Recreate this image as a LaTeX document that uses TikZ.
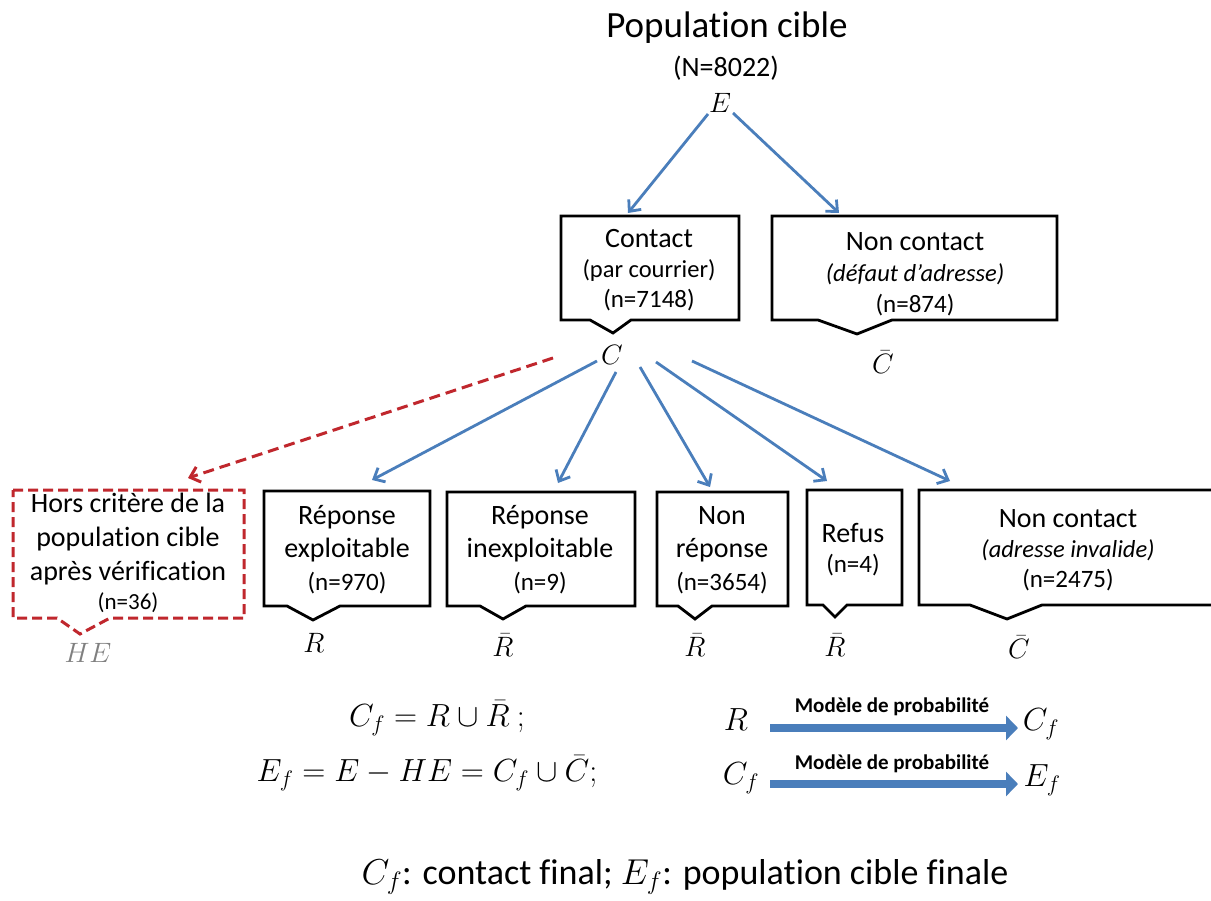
\documentclass[tikz,border=0pt]{standalone}
\usepackage{fix-cm}
\usepackage{fontspec}
\setmainfont{Carlito}[Ligatures={NoCommon}]
\usetikzlibrary{arrows.meta}
\definecolor{ablue}{RGB}{74,126,187}
\definecolor{ared}{RGB}{192,39,45}
\definecolor{hegray}{RGB}{128,128,128}
\newcommand{\fsz}[1]{\fontsize{#1}{#1}\selectfont}
\begin{document}
\begin{tikzpicture}[x=1pt,y=-1pt,
  callout/.style={draw=black,line width=2.8pt,line join=miter},
  hecallout/.style={draw=ared,line width=3pt,dash pattern=on 10pt off 5pt},
  arr/.style={draw=ablue,line width=2.8pt,-{Straight Barb[length=9pt,width=16pt]}},
  redarr/.style={draw=ared,line width=3pt,dash pattern=on 11pt off 6pt,-{Straight Barb[length=9pt,width=16pt]}},
  fatarr/.style={draw=ablue,line width=8pt,-{Triangle[length=12pt,width=24pt]}},
  txt/.style={inner sep=0pt,align=center},
  lbl/.style={inner sep=0pt,font=\fsz{28}},
  formula/.style={inner sep=0pt,font=\fsz{32}},
]
\clip (0,0) rectangle (1211,901);
\fill[white] (0,0) rectangle (1211,901);

% title
\node[txt] (title) at (727,28) {\fsz{37}Population cible};
\node[txt] (N) at (726,68) {\fsz{28}(N=8022)};
\node[lbl] (E) at (720,103) {$E$};

% top boxes
\draw[callout] (561,216) -- (739,216) -- (739,320) -- (631,320) -- (613,333) -- (590,320) -- (561,320) -- cycle;
\node[txt,font=\fontsize{24}{30}\selectfont] (contact) at (649,270) {\fsz{28}Contact\\\fsz{24.5}(par courrier)\\\fsz{25}(n=7148)};
\draw[callout] (772,216) -- (1057,216) -- (1057,320) -- (892,320) -- (857,334) -- (818,320) -- (772,320) -- cycle;
\node[txt,font=\fontsize{24}{31}\selectfont] (noncontact) at (915,274) {\fsz{28}Non contact\\\fsz{24.5}\itshape (défaut d’adresse)\\\fsz{25}(n=874)};

\node[lbl] (C) at (612,355) {$C$};
\node[lbl] (Cbar) at (883,362) {$\bar{C}$};

% bottom boxes
\draw[hecallout] (13,490) -- (244,490) -- (244,618) -- (110,618) -- (80,634) -- (57,618) -- (13,618) -- cycle;
\node[txt,font=\fontsize{24}{34}\selectfont] (hors) at (128,553) {\fsz{28}Hors critère de la\\\fsz{28}population cible\\\fsz{28}après vérification\\[-5pt]\fsz{23}(n=36)};
\node[lbl,text=hegray] (HE) at (88,653) {$HE$};

\draw[callout] (264,491) -- (430,491) -- (430,606) -- (340,606) -- (313,620) -- (287,606) -- (264,606) -- cycle;
\node[txt,font=\fontsize{24}{33}\selectfont] (rexp) at (347,550) {\fsz{28}Réponse\\\fsz{28}exploitable\\\fsz{25}(n=970)};
\node[lbl] (R1) at (314,643) {$R$};

\draw[callout] (447,492) -- (635,492) -- (635,606) -- (526,606) -- (503,619) -- (480,606) -- (447,606) -- cycle;
\node[txt,font=\fontsize{24}{33}\selectfont] (rinexp) at (540,550) {\fsz{28}Réponse\\\fsz{28}inexploitable\\\fsz{25}(n=9)};
\node[lbl] (R2) at (503,645) {$\bar{R}$};

\draw[callout] (657,492) -- (788,492) -- (788,606) -- (712,606) -- (695,619) -- (678,606) -- (657,606) -- cycle;
\node[txt,font=\fontsize{24}{33}\selectfont] (nonrep) at (722,550) {\fsz{28}Non\\\fsz{28}réponse\\\fsz{25}(n=3654)};
\node[lbl] (R3) at (695,645) {$\bar{R}$};

\draw[callout] (807,490) -- (902,490) -- (902,605) -- (847,605) -- (835,617) -- (823,605) -- (807,605) -- cycle;
\node[txt,font=\fontsize{24}{30}\selectfont] (refus) at (853,550) {\fsz{28}Refus\\\fsz{25}(n=4)};
\node[lbl] (R4) at (835,645) {$\bar{R}$};

\draw[callout] (1220,490) -- (919,490) -- (919,605) -- (970,605) -- (1007,619) -- (1042,605) -- (1220,605);
\node[txt,font=\fontsize{24}{30}\selectfont] (nonc2) at (1068,550) {\fsz{28}Non contact\\\fsz{24.5}\itshape (adresse invalide)\\\fsz{25}(n=2475)};
\node[lbl] (C2) at (1019,647) {$\bar{C}$};

% connector end points
\coordinate (Esw) at (708,114);
\coordinate (Ese) at (733,113);
\coordinate (tContact) at (628,213);
\coordinate (tNonContact) at (839,213);
\coordinate (Cw) at (553,358);
\coordinate (C1) at (597,361);
\coordinate (C2s) at (616,372);
\coordinate (C3) at (640,367);
\coordinate (C4) at (656,362);
\coordinate (C5) at (692,361);
\coordinate (tHE) at (188,478);
\coordinate (tR1) at (372,480);
\coordinate (tR2) at (558,483);
\coordinate (tR3) at (710,487);
\coordinate (tR4) at (827,481);
\coordinate (tC2) at (950,481);

\draw[arr] (Esw) -- (tContact);
\draw[arr] (Ese) -- (tNonContact);
\draw[redarr] (Cw) -- (tHE);
\draw[arr] (C1) -- (tR1);
\draw[arr] (C2s) -- (tR2);
\draw[arr] (C3) -- (tR3);
\draw[arr] (C4) -- (tR4);
\draw[arr] (C5) -- (tC2);

% formulas
\node[formula] (f1) at (437,718) {$C_f = R \cup \bar{R}\ ;$};
\node[formula] (f2) at (427,773) {$E_f = E - HE = C_f \cup \bar{C};$};

\node[formula] (mR) at (736,720) {$R$};
\node[formula] (mCf1) at (1041,724) {$C_f$};
\node[formula] (mCf2) at (741,778) {$C_f$};
\node[formula] (mEf) at (1042,780) {$E_f$};
\coordinate (a1s) at (770,728);
\coordinate (a1e) at (1018,728);
\coordinate (a2s) at (770,784);
\coordinate (a2e) at (1018,784);
\draw[fatarr] (a1s) -- (a1e);
\draw[fatarr] (a2s) -- (a2e);
\node[txt] (m1) at (892,707) {\fsz{21}\bfseries Modèle de probabilité};
\node[txt] (m2) at (892,764) {\fsz{21}\bfseries Modèle de probabilité};

% legend
\node[txt] (legend) at (685,877) {\fsz{36}$C_f$: contact final;\ $E_f$: population cible finale};
\end{tikzpicture}
\end{document}
